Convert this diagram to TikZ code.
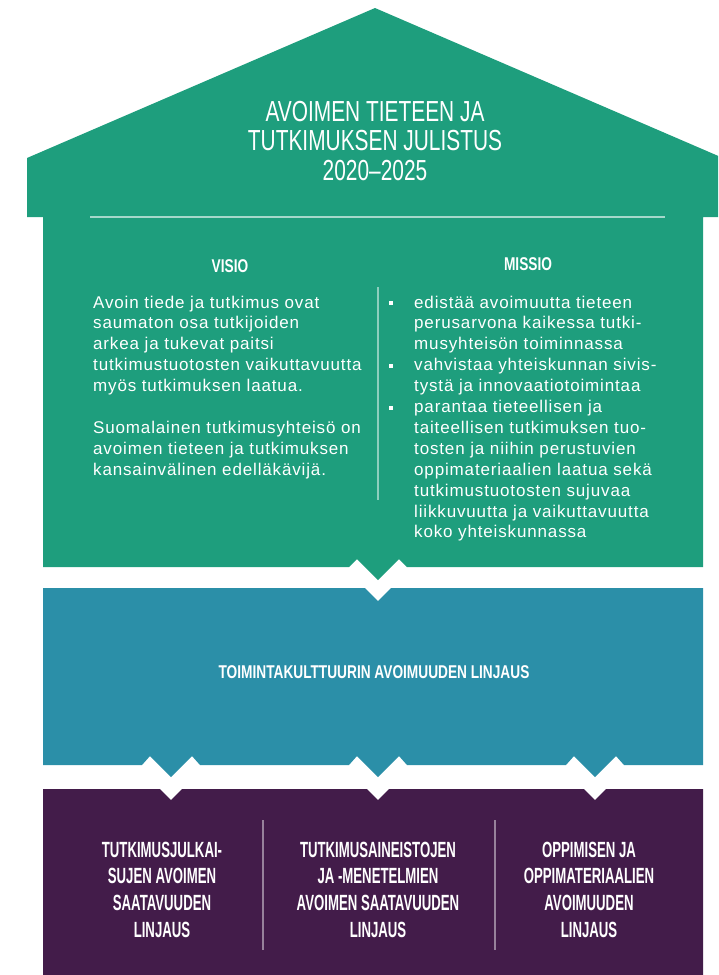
\documentclass[tikz,border=0pt]{standalone}
\usepackage{fontspec}
\usepackage{tikz}

\definecolor{declgreen}{RGB}{30,158,125}
\definecolor{declteal}{RGB}{43,143,168}
\definecolor{declpurple}{RGB}{67,28,74}

\newfontfamily\bodyfont{Liberation Sans}[LetterSpace=5]
\newfontfamily\titlefont{Liberation Sans}[FakeStretch=0.72]
\newfontfamily\labelfont{Liberation Sans}[FakeStretch=0.74]
\newfontfamily\colfont{Liberation Sans}[FakeStretch=0.6]

\newcommand{\missbul}{\makebox[25pt][l]{\rule[3pt]{4pt}{4pt}}}
\newcommand{\missind}{\hspace*{25pt}}

\begin{document}
\begin{tikzpicture}[x=1pt, y=-1pt,
  titletext/.style={text=white, inner sep=0pt, anchor=base, font=\titlefont\fontsize{29}{29.5}\selectfont},
  headtext/.style={text=white, inner sep=0pt, anchor=base, font=\labelfont\bfseries\fontsize{18.5}{20}\selectfont},
  bodytext/.style={text=white, inner sep=0pt, anchor=base west, font=\bodyfont\fontsize{17}{20.9}\selectfont},
  coltext/.style={text=white, inner sep=0pt, anchor=base, font=\colfont\bfseries\fontsize{22}{26.7}\selectfont},
  divider/.style={white, opacity=0.5, line width=1.5pt}]

\useasboundingbox (0,0) rectangle (718,975);
\clip (0,0) rectangle (718,975);

% roof and upper block
\fill[declgreen] (27,217) -- (27,158) -- (375,8) -- (723,158) -- (723,217) -- (703,217) -- (703,567) -- (407,567) -- ++(-8,-8) -- ++(-21,21) -- ++(-21,-21) -- ++(-8,8) -- (43,567) -- (43,217) -- cycle;

\draw[divider, opacity=0.6] (90,217) -- (665,217);
\draw[divider] (378,287) -- (378,500);

% middle block
\fill[declteal] (43,588) -- (365,588) -- ++(13,13) -- ++(13,-13) -- (703,588) -- (703,765)
  \foreach \cx in {595,378,171} { -- (\cx+29,765) -- (\cx+21,756) -- (\cx,777) -- (\cx-21,756) -- (\cx-29,765) }
  -- (43,765) -- cycle;

% lower block
\fill[declpurple] (43,789)
  \foreach \cx in {171,378,595} { -- (\cx-11,789) -- (\cx,800) -- (\cx+11,789) }
  -- (703,789) -- (703,975) -- (43,975) -- cycle;

\draw[divider, opacity=0.45] (263,820) -- (263,950);
\draw[divider, opacity=0.45] (495,820) -- (495,950);


\node[titletext] (title) at (375,121) {\parbox[t]{340pt}{\centering AVOIMEN TIETEEN JA\\TUTKIMUKSEN JULISTUS\\2020–2025}};

\node[headtext] (visiohead) at (230,272) {VISIO};
\node[headtext] (missiohead) at (528,270) {MISSIO};

\node[bodytext] (visiotext) at (93,308) {\parbox[t]{300pt}{\raggedright
Avoin tiede ja tutkimus ovat\\
saumaton osa tutkijoiden\\
arkea ja tukevat paitsi\\
tutkimustuotosten vaikuttavuutta\\
myös tutkimuksen laatua.\\[20.9pt]
Suomalainen tutkimusyhteisö on\\
avoimen tieteen ja tutkimuksen\\
kansainvälinen edelläkävijä.}};

\node[bodytext] (missiotext) at (389,308) {\parbox[t]{310pt}{\raggedright
\missbul edistää avoimuutta tieteen\\
\missind perusarvona kaikessa tutki-\\
\missind musyhteisön toiminnassa\\
\missbul vahvistaa yhteiskunnan sivis-\\
\missind tystä ja innovaatiotoimintaa\\
\missbul parantaa tieteellisen ja\\
\missind taiteellisen tutkimuksen tuo-\\
\missind tosten ja niihin perustuvien\\
\missind oppimateriaalien laatua sekä\\
\missind tutkimustuotosten sujuvaa\\
\missind liikkuvuutta ja vaikuttavuutta\\
\missind koko yhteiskunnassa}};

\node[headtext] (culture) at (374,678) {TOIMINTAKULTTUURIN AVOIMUUDEN LINJAUS};

\node[coltext] (pubs) at (162,857) {\parbox[t]{200pt}{\centering TUTKIMUSJULKAI-\\SUJEN AVOIMEN\\SAATAVUUDEN\\LINJAUS}};
\node[coltext] (data) at (378,857) {\parbox[t]{220pt}{\centering TUTKIMUSAINEISTOJEN\\JA -MENETELMIEN\\AVOIMEN SAATAVUUDEN\\LINJAUS}};
\node[coltext] (learning) at (589,857) {\parbox[t]{200pt}{\centering OPPIMISEN JA\\OPPIMATERIAALIEN\\AVOIMUUDEN\\LINJAUS}};

\end{tikzpicture}
\end{document}
